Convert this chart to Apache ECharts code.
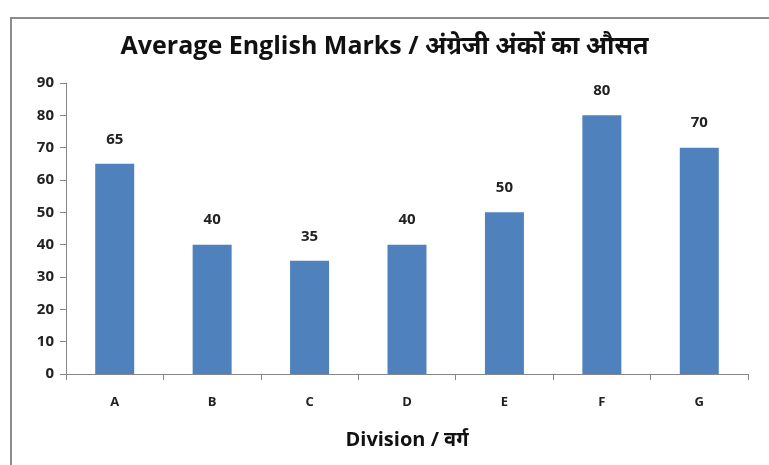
<!DOCTYPE html>
<html>
<head>
<meta charset="utf-8">
<script src="https://cdn.jsdelivr.net/npm/echarts@6/dist/echarts.min.js"></script>
<style>
  html, body { margin: 0; padding: 0; background: #fff; }
  #main { width: 769px; height: 465px; }
</style>
</head>
<body>
<div id="main"></div>
<script>
var divisions = ['A', 'B', 'C', 'D', 'E', 'F', 'G'];
var marks = [65, 40, 35, 40, 50, 80, 70];
var yTicks = [0, 10, 20, 30, 40, 50, 60, 70, 80, 90];

var chart = echarts.init(document.getElementById('main'));
var font = 'Open Sans, Noto Sans, sans-serif';

var option = {
  backgroundColor: '#fff',
  animation: false,
  title: {
    text: 'Average English Marks / अंग्रेजी अंकों का औसत',
    left: 'center',
    top: 29,
    textStyle: { fontFamily: font, fontSize: 25, fontWeight: 'bold', color: '#111' }
  },
  graphic: [
    {
      type: 'rect',
      shape: { x: 11, y: 18, width: 800, height: 500 },
      style: { fill: 'none', stroke: '#8c8c8c', lineWidth: 2 },
      silent: true
    }
  ],
  grid: { left: 66, right: 21, top: 83, bottom: 91 },
  xAxis: {
    type: 'category',
    data: divisions,
    name: 'Division / वर्ग',
    nameLocation: 'middle',
    nameGap: 56,
    nameTextStyle: { fontFamily: font, fontSize: 20, fontWeight: 'bold', color: '#111' },
    axisLine: { lineStyle: { color: '#868686' } },
    axisTick: { show: true, length: 6, lineStyle: { color: '#868686' } },
    axisLabel: { margin: 22, fontFamily: font, fontSize: 13, fontWeight: 'bold', color: '#222' }
  },
  yAxis: {
    type: 'value',
    min: yTicks[0],
    max: yTicks[yTicks.length - 1],
    interval: 10,
    splitLine: { show: false },
    axisLine: { show: true, lineStyle: { color: '#868686' } },
    axisTick: { show: true, length: 6, lineStyle: { color: '#868686' } },
    axisLabel: { margin: 12, fontFamily: font, fontSize: 15, fontWeight: 'bold', color: '#222' }
  },
  series: [
    {
      type: 'bar',
      data: marks,
      barWidth: 39,
      itemStyle: { color: '#4f81bd' },
      label: {
        show: true,
        position: 'top',
        distance: 17,
        fontFamily: font,
        fontSize: 15,
        fontWeight: 'bold',
        color: '#222'
      }
    }
  ]
};

chart.setOption(option);
</script>
</body>
</html>
